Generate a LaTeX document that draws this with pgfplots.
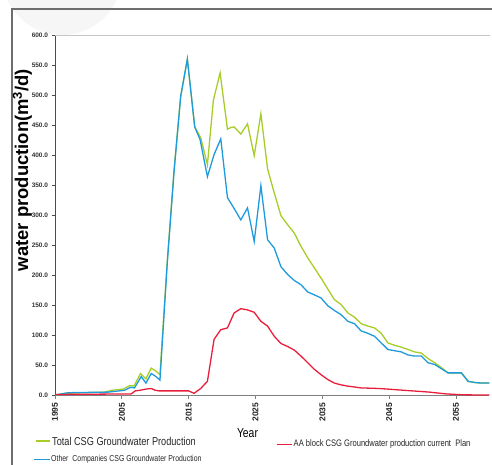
\documentclass[border=0pt]{standalone}
\usepackage{fontspec}
\setmainfont{Liberation Sans}
\newfontfamily\narrow{Liberation Sans}[FakeStretch=0.8]
\usepackage{pgfplots}
\pgfplotsset{compat=1.18}

\definecolor{totgreen}{RGB}{168,204,40}
\definecolor{othblue}{RGB}{30,155,220}
\definecolor{aared}{RGB}{232,30,60}
\definecolor{framegray}{RGB}{110,110,110}

\pgfplotstableread{
x y
1995 1
1996.5 4
2002.5 6
2003.5 9
2005.2 11
2006.2 17
2006.8 16
2007.8 37
2008.6 28
2009.4 46
2010.1 41
2010.7 35
2011.8 225
2012.8 375
2013.8 498
2014.8 561
2015.9 448
2016.8 430
2017.8 385
2018.7 493
2019.7 538
2020.8 444
2021.3 447
2021.8 448
2022.8 436
2023.8 453
2024.8 400
2025.8 470
2026.8 378
2027.8 338
2028.8 300
2029.8 285
2030.8 271
2031.8 249
2032.8 230
2033.8 213
2034.8 196
2035.8 178
2036.8 160
2037.8 152
2038.8 138
2039.8 131
2040.8 120
2041.8 116
2042.8 113
2043.8 104
2044.8 88
2045.8 84
2046.8 81
2047.8 77
2048.8 73
2049.8 71
2050.8 62
2051.8 55
2052.8 47
2053.8 38
2054.8 38
2055.8 38
2056.8 24
2057.8 22
2058.8 21
2060 21
}\total

\pgfplotstableread{
x y
1995 1
1997 5
2003 6
2005.4 9
2006.3 14
2006.9 13
2007.9 32
2008.6 21
2009.4 37
2010.1 32
2010.7 26
2011.8 222
2012.8 372
2013.8 499
2014.8 561
2015.9 448
2016.7 427
2017.8 365
2018.8 402
2019.8 428
2020.8 330
2021.8 312
2022.8 293
2023.8 313
2024.8 257
2025.8 350
2026.8 260
2027.8 246
2028.8 215
2029.8 202
2030.8 192
2031.8 185
2032.8 173
2033.8 168
2034.8 163
2035.8 150
2036.8 142
2037.8 135
2038.8 124
2039.8 120
2040.8 108
2041.8 104
2042.8 99
2043.8 88
2044.8 77
2045.8 75
2046.8 73
2047.8 68
2048.8 66
2049.8 66
2050.8 55
2051.8 52
2052.8 45
2053.8 38
2054.8 38
2055.8 38
2056.8 24
2057.8 22
2058.8 21
2060 21
}\other

\pgfplotstableread{
x y
1995 2
2006.4 3
2007.0 8
2007.7 9
2008.6 11
2009.4 12
2010.0 9
2010.6 8
2015.0 8
2015.8 4
2016.8 12
2017.8 24
2018.8 94
2019.8 110
2020.8 113
2021.8 138
2022.8 145
2023.8 143
2024.8 139
2025.8 124
2026.8 116
2027.8 99
2028.8 87
2029.8 82
2030.8 76
2031.8 66
2032.8 55
2033.8 44
2034.8 35
2035.8 27
2036.8 21
2037.8 18
2038.8 16
2040.8 13
2043.5 12
2046 10
2048.5 8
2051 6
2053.5 3
2056 1.5
2060 1
}\aablock

\begin{document}
\begin{tikzpicture}
\useasboundingbox (0,0) rectangle (492bp,465bp);
% faint watermark and outer frame
\fill[gray!7] (62bp,490bp) circle[radius=60bp];
\draw[framegray, line width=1.6bp] (12bp,0bp) -- (12bp,456bp) -- (492bp,456bp);

\begin{axis}[
name=ax,
at={(55bp,69.3bp)}, anchor=south west,
scale only axis,
width=434.5bp, height=360bp,
xmin=1995, xmax=2060,
ymin=0, ymax=600,
axis x line*=bottom,
axis y line*=left,
x axis line style={-, gray, line width=1.4bp},
y axis line style={-, black!70, line width=0.9bp},
tick align=outside,
major tick length=3.5bp,
xtick={1995,2005,...,2055},
ytick={0,50,...,600},
minor tick num=0,
xtick style={gray, line width=0.9bp},
ytick style={black!70, line width=0.7bp},
/pgf/number format/assume math mode=true,
xticklabel style={rotate=90, anchor=east, font=\bfseries\fontsize{8.5}{9}\selectfont, /pgf/number format/1000 sep={}, text=black!85},
yticklabel style={font=\bfseries\fontsize{6.5}{7}\selectfont, /pgf/number format/fixed, /pgf/number format/fixed zerofill, /pgf/number format/precision=1, text=black!80},
xlabel={Year},
xlabel style={font=\narrow\fontsize{13}{14}\selectfont, at={(axis description cs:0.443,-0.104)}, anchor=center},
ylabel={water production(m\textsuperscript{3}/d)},
ylabel style={font=\bfseries\fontsize{18.5}{20}\selectfont, at={(axis description cs:-0.075,0.627)}, anchor=center},
every axis plot/.append style={line width=1.3bp},
]
\addplot[totgreen] table {\total};
\addplot[othblue] table {\other};
\addplot[aared] table {\aablock};
\end{axis}
\draw[gray!45, line width=1.1bp] (ax.north west) -- (ax.north east);

% legend
\draw[totgreen, line width=1.3bp] (36bp,24bp) -- (50bp,24bp);
\node[anchor=west, inner sep=0pt, font=\narrow\fontsize{11.5}{12}\selectfont, text=black!85] at (52bp,24bp) {Total CSG Groundwater Production};
\draw[othblue, line width=1.3bp] (34bp,5.5bp) -- (50bp,5.5bp);
\node[anchor=west, inner sep=0pt, font=\narrow\fontsize{8.7}{9}\selectfont, text=black!85] at (51bp,5.5bp) {Other\ \ Companies CSG Groundwater Production};
\draw[aared, line width=1.3bp] (277bp,20.5bp) -- (292bp,20.5bp);
\node[anchor=west, inner sep=0pt, font=\narrow\fontsize{9.5}{10}\selectfont, text=black!85] at (293.5bp,20.5bp) {AA block CSG Groundwater production current\ \ Plan};
\end{tikzpicture}
\end{document}
